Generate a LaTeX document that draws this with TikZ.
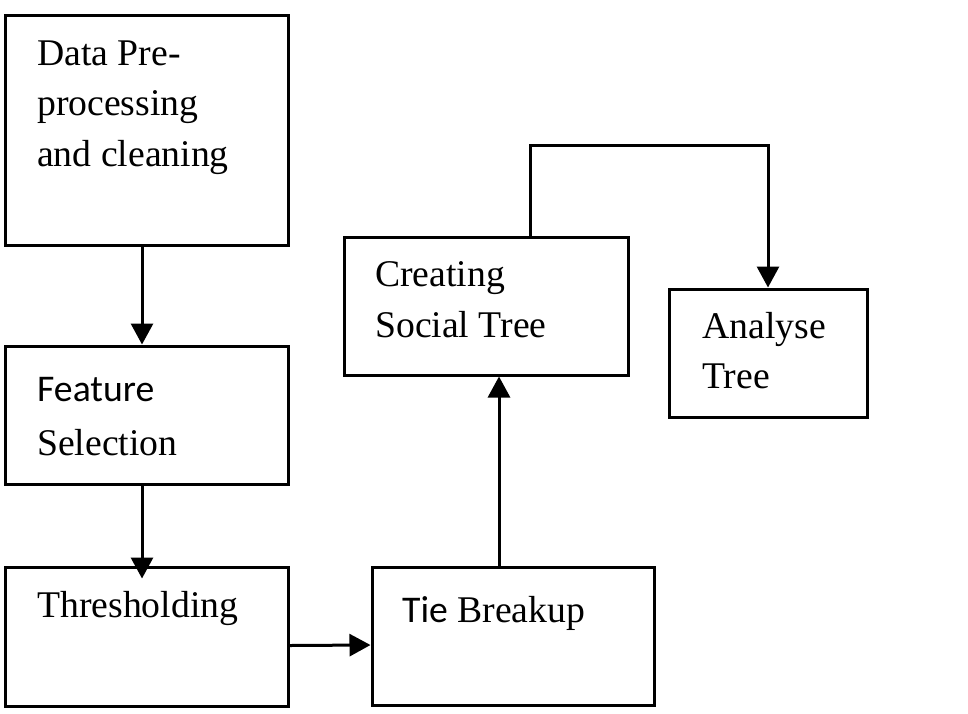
\documentclass[tikz,border=0pt]{standalone}
\usepackage{fontspec}
\setmainfont{Liberation Serif}
\newfontfamily\calibrifont{Carlito}
\usetikzlibrary{arrows.meta,calc}
\tikzset{
    % Process box
    stepbox/.style={
        draw=black,
        line width=3pt,
        minimum width=283pt,
        minimum height=138pt,
        inner sep=0pt
    },
    % Box text (anchored at the baseline of the last line)
    steptext/.style={
        anchor=base west,
        inner sep=0pt,
        align=left,
        font=\fontsize{37.7}{50.5}\selectfont
    },
    % Arrow style
    myarrow/.style={
        -{Triangle[length=21pt,width=22pt]},
        line width=3pt,
        draw=black
    }
}
\begin{document}
\begin{tikzpicture}[x=1pt, y=-1pt]
        \useasboundingbox (0,0) rectangle (968,713);

        % Left column
        \node[stepbox, minimum height=230pt] (pre) at (146.5,130) {};
        \node[stepbox] (feat) at (146.5,415) {};
        \node[stepbox, minimum height=139pt] (thres) at (146.5,636.5) {};

        % Right part
        \node[stepbox, minimum width=282pt] (tie) at (513,636) {};
        \node[stepbox, minimum width=284pt] (social) at (486,306) {};
        \node[stepbox, minimum width=198pt, minimum height=128pt] (analyse) at (768,353) {};

        % Texts
        \node[steptext] (pretext) at (37,166) {Data Pre-\\processing\\and cleaning};
        \node[steptext, font=\fontsize{37.7}{54}\selectfont] (feattext) at (37,455) {{\calibrifont Feature}\\Selection};
        \node[steptext] (threstext) at (37,617) {Thresholding};
        \node[steptext] (tietext) at (402,622) {{\calibrifont Tie} Breakup};
        \node[steptext, font=\fontsize{37.7}{51}\selectfont] (socialtext) at (375,337) {Creating\\Social Tree};
        \node[steptext, font=\fontsize{37.7}{50}\selectfont] (analysetext) at (702,388) {Analyse\\Tree};

        % Arrows
        \draw[myarrow] ([xshift=-4.5]pre.south) -- ([xshift=-4.5]feat.north);
        \draw[myarrow] ([xshift=-4.5]feat.south) -- ([xshift=-4.5,yshift=-13]thres.north);
        \draw[myarrow] ([yshift=-9]thres.east) -- ([yshift=-9]tie.west);
        \draw[myarrow] ([xshift=-14]tie.north) -- ([xshift=-14]tie.north |- social.south);
        \coordinate (bend) at (768,145);
        \draw[myarrow] ([xshift=44]social.north) |- (bend) -- (analyse.north);
\end{tikzpicture}
\end{document}
